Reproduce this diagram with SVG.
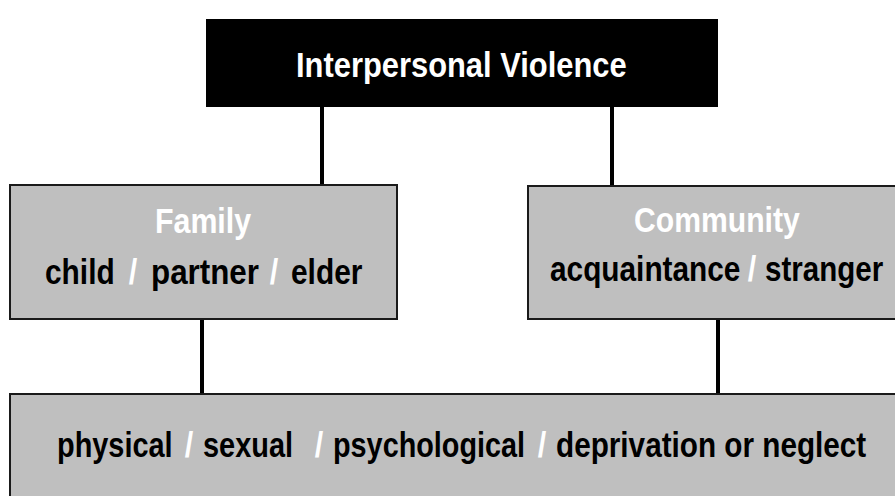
<svg xmlns="http://www.w3.org/2000/svg" width="895" height="496" viewBox="0 0 895 496">
  <style>
    .t { font-family: "Liberation Sans", Arial, sans-serif; font-weight: bold; font-size: 36px; }
    .s { font-family: "Liberation Sans", Arial, sans-serif; font-weight: bold; font-size: 36px; fill: #ffffff; text-anchor: middle; }
    .w { fill: #ffffff; }
    .k { fill: #000000; }
    .box { fill: #bfbfbf; stroke: #1a1a1a; stroke-width: 2; }
    .conn { stroke: #000000; stroke-width: 4; fill: none; }
  </style>
  <rect width="895" height="496" fill="#ffffff"/>
  <g id="connectors">
    <line class="conn" x1="322" y1="106" x2="322" y2="186"/>
    <line class="conn" x1="612" y1="106" x2="612" y2="187"/>
    <line class="conn" x1="202" y1="319" x2="202" y2="394"/>
    <line class="conn" x1="718" y1="319" x2="718" y2="394"/>
  </g>
  <g id="interpersonal">
    <rect x="206" y="19" width="512" height="88" fill="#000000"/>
    <text class="t w" transform="translate(296,77) scale(0.85,1)" textLength="389" lengthAdjust="spacingAndGlyphs">Interpersonal Violence</text>
  </g>
  <g id="family">
    <rect class="box" x="10" y="185" width="387" height="134"/>
    <text class="t w" transform="translate(155,233) scale(0.85,1)" textLength="113" lengthAdjust="spacingAndGlyphs">Family</text>
    <text class="t k" transform="translate(45,284) scale(0.85,1)" textLength="82" lengthAdjust="spacingAndGlyphs">child</text>
    <text class="s" transform="translate(133,284) scale(0.85,1)">/</text>
    <text class="t k" transform="translate(151,284) scale(0.85,1)" textLength="127" lengthAdjust="spacingAndGlyphs">partner</text>
    <text class="s" transform="translate(274,284) scale(0.85,1)">/</text>
    <text class="t k" transform="translate(291,284) scale(0.85,1)" textLength="84" lengthAdjust="spacingAndGlyphs">elder</text>
  </g>
  <g id="community">
    <rect class="box" x="528" y="186" width="380" height="133"/>
    <text class="t w" transform="translate(634,232) scale(0.85,1)" textLength="195" lengthAdjust="spacingAndGlyphs">Community</text>
    <text class="t k" transform="translate(550,281) scale(0.85,1)" textLength="224" lengthAdjust="spacingAndGlyphs">acquaintance</text>
    <text class="s" transform="translate(752,281) scale(0.85,1)">/</text>
    <text class="t k" transform="translate(765,281) scale(0.85,1)" textLength="139" lengthAdjust="spacingAndGlyphs">stranger</text>
  </g>
  <g id="forms">
    <rect class="box" x="10" y="394" width="900" height="120"/>
    <text class="t k" transform="translate(57,457) scale(0.85,1)" textLength="136" lengthAdjust="spacingAndGlyphs">physical</text>
    <text class="s" transform="translate(189,457) scale(0.85,1)">/</text>
    <text class="t k" transform="translate(203,457) scale(0.85,1)" textLength="106" lengthAdjust="spacingAndGlyphs">sexual</text>
    <text class="s" transform="translate(319,457) scale(0.85,1)">/</text>
    <text class="t k" transform="translate(333,457) scale(0.85,1)" textLength="226" lengthAdjust="spacingAndGlyphs">psychological</text>
    <text class="s" transform="translate(542,457) scale(0.85,1)">/</text>
    <text class="t k" transform="translate(556,457) scale(0.85,1)" textLength="365" lengthAdjust="spacingAndGlyphs">deprivation or neglect</text>
  </g>
</svg>
